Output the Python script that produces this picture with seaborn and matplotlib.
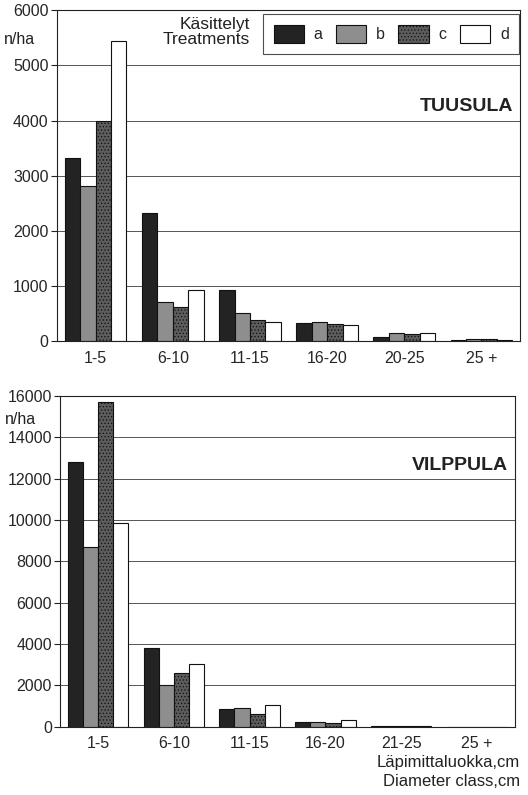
import pandas as pd
import numpy as np
import matplotlib
matplotlib.use('Agg')
import matplotlib.pyplot as plt
from matplotlib.patches import Patch
import seaborn as sns

# Values (n/ha)
treatments = ['a', 'b', 'c', 'd']
classes_tuusula = ['1-5', '6-10', '11-15', '16-20', '20-25', '25 +']
classes_vilppula = ['1-5', '6-10', '11-15', '16-20', '21-25', '25 +']

tuusula_a = [3330, 2320, 930, 330, 80, 20]
tuusula_b = [2820, 700, 500, 350, 150, 30]
tuusula_c = [4000, 620, 380, 310, 130, 45]
tuusula_d = [5450, 920, 340, 290, 140, 25]

vilppula_a = [12800, 3800, 850, 200, 15, 5]
vilppula_b = [8700, 2000, 880, 240, 15, 5]
vilppula_c = [15700, 2600, 600, 190, 30, 5]
vilppula_d = [9850, 3050, 1050, 300, 20, 5]

sns.set_theme(style='white')
plt.rcParams['font.family'] = ['Liberation Sans', 'DejaVu Sans']
plt.rcParams['hatch.linewidth'] = 0.5

face = {'a': '#232323', 'b': '#8e8e8e', 'c': '#5c5c5c', 'd': '#ffffff'}
hatch = {'a': '', 'b': '', 'c': '.....', 'd': ''}


def make_df(classes, a, b, c, d):
    rows = []
    for t, vals in zip(treatments, [a, b, c, d]):
        for cl, v in zip(classes, vals):
            rows.append({'class': cl, 'treatment': t, 'n': v})
    return pd.DataFrame(rows)


def draw(ax, df, classes, ymax, step, title, title_y):
    sns.barplot(data=df, x='class', y='n', hue='treatment', order=classes,
                hue_order=treatments, palette=face, width=0.8,
                edgecolor='#111111', linewidth=0.8, ax=ax, legend=False)
    for t, cont in zip(treatments, ax.containers):
        for p in cont.patches:
            p.set_hatch(hatch[t])
    ax.set_ylim(0, ymax)
    ax.set_xlim(-0.5, len(classes) - 0.5)
    ax.set_yticks(np.arange(0, ymax + 1, step))
    ax.yaxis.grid(True, color='#555555', linewidth=0.7)
    ax.set_axisbelow(True)
    for s in ax.spines.values():
        s.set_color('#222222')
        s.set_linewidth(0.8)
    ax.tick_params(axis='y', left=True, length=4, width=0.8, color='#222222',
                   labelsize=11.5, pad=2)
    ax.tick_params(axis='x', bottom=False, labelsize=11.5, pad=1)
    ax.set_xlabel('')
    ax.set_ylabel('')
    ax.text(0.985, title_y, title, transform=ax.transAxes, ha='right',
            va='center', fontsize=14, fontweight='bold', color='#222222')


fig = plt.figure(figsize=(5.28, 7.95), dpi=100)
ax1 = fig.add_axes([0.108, 0.571, 0.877, 0.416])
ax2 = fig.add_axes([0.114, 0.086, 0.861, 0.416])

df1 = make_df(classes_tuusula, tuusula_a, tuusula_b, tuusula_c, tuusula_d)
df2 = make_df(classes_vilppula, vilppula_a, vilppula_b, vilppula_c, vilppula_d)

draw(ax1, df1, classes_tuusula, 6000, 1000, 'TUUSULA', 0.71)
draw(ax2, df2, classes_vilppula, 16000, 2000, 'VILPPULA', 0.79)

# y unit labels
fig.text(0.008, 0.950, 'n/ha', fontsize=11.5, ha='left', va='center', color='#222222')
fig.text(0.01, 0.472, 'n/ha', fontsize=11.5, ha='left', va='center', color='#222222')

# legend
handles = [Patch(facecolor=face[t], edgecolor='#111111', hatch=hatch[t], linewidth=0.8)
           for t in treatments]
leg = ax1.legend(handles, treatments, ncol=4, loc='upper right',
                 bbox_to_anchor=(0.998, 0.988), borderaxespad=0, frameon=True,
                 fontsize=11.5, handlelength=1.9, handleheight=1.4,
                 columnspacing=0.85, handletextpad=0.6, borderpad=0.65,
                 fancybox=False)
leg.get_frame().set_edgecolor('#222222')
leg.get_frame().set_linewidth(0.8)
ax1.text(0.417, 0.935, 'Käsittelyt\nTreatments', transform=ax1.transAxes,
         ha='right', va='center', fontsize=12.5, linespacing=0.95, color='#222222')

# x axis title
fig.text(0.985, 0.029, 'Läpimittaluokka,cm\nDiameter class,cm', ha='right',
         va='center', fontsize=12, linespacing=1.3, color='#222222')

fig.savefig('out.png', dpi=100)
